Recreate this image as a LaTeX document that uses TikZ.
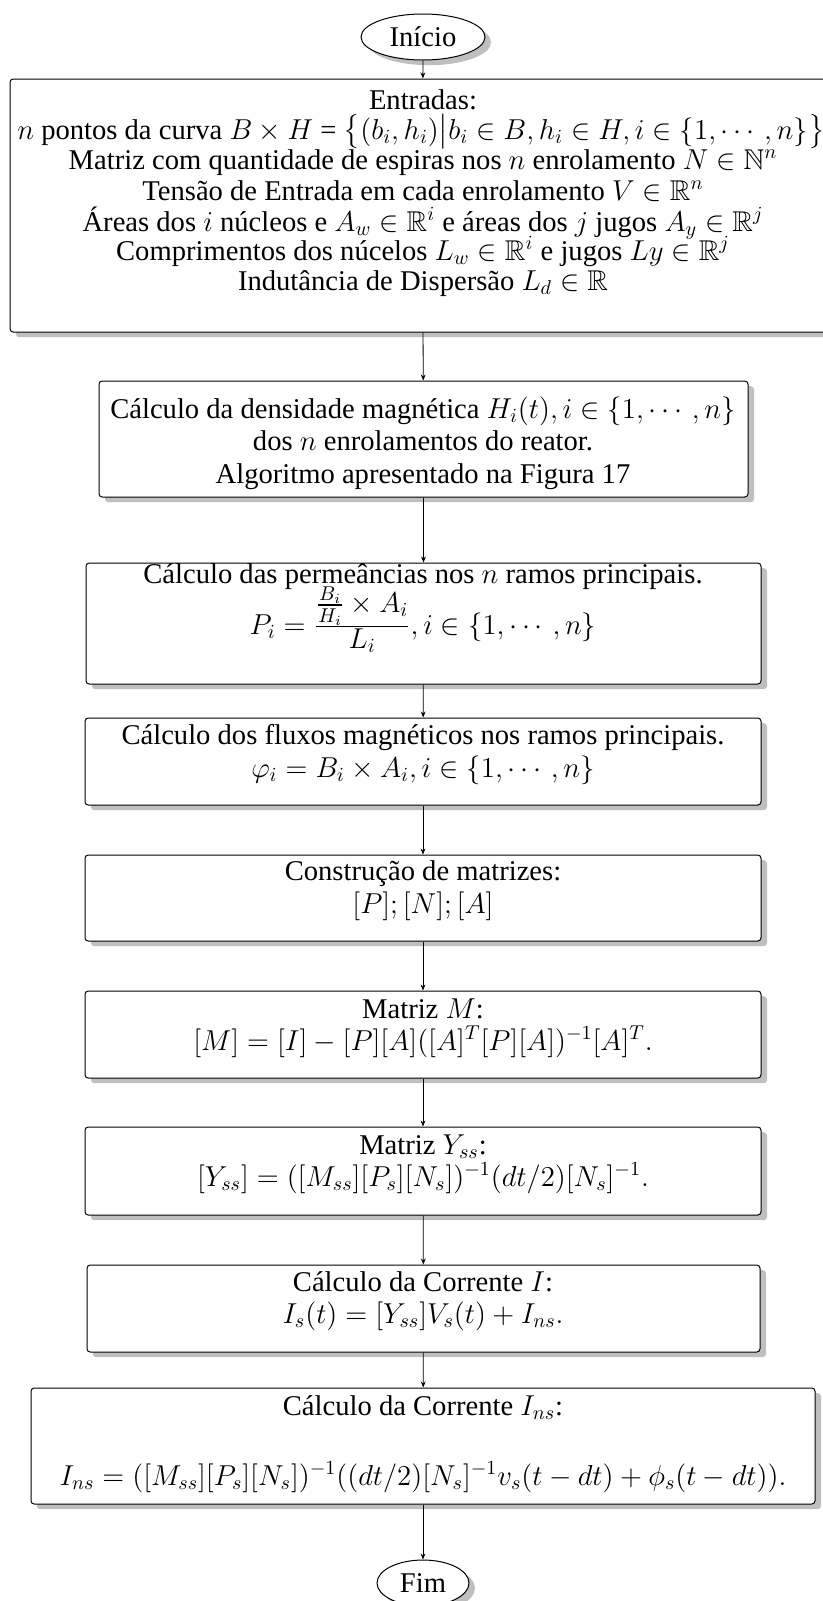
\documentclass[tikz,border=0pt]{standalone}
\usepackage{amsmath,amssymb}
\usepackage{fontspec}
\setmainfont{Liberation Serif}
\usetikzlibrary{shadows,arrows.meta,shapes.geometric}
\begin{document}
\begin{tikzpicture}[x=0.5pt,y=-0.5pt,
  boxstyle/.style={draw=black, line width=0.5pt, rounded corners=1.6pt, fill=white, inner sep=0pt,
    drop shadow={shadow xshift=3pt, shadow yshift=-2.6pt, fill=black!25, opacity=1}},
  termstyle/.style={ellipse, draw=black, line width=0.5pt, fill=white, inner sep=0pt,
    minimum height=23pt, font=\fontsize{14.3}{16}\selectfont,
    drop shadow={shadow xshift=3pt, shadow yshift=-2.6pt, fill=black!25, opacity=1}},
  linestyle/.style={inner sep=0pt, anchor=center, text height=0.7em, text depth=0.2em,
    font=\fontsize{14.3}{16}\selectfont},
  arr/.style={line width=0.4pt, -{Stealth[length=3pt,width=2.4pt]}}]
\useasboundingbox (0,0) rectangle (823,1601);
\clip (0,0) rectangle (823,1601);

% terminals
\node[termstyle, minimum width=62pt] (ini) at (423,37) {Início};
\node[termstyle, minimum width=46pt] (fim) at (423,1583) {Fim};

% boxes
\node[boxstyle, minimum width=412.5pt, minimum height=126.5pt] (b1) at (422.5,205.5) {};
\node[boxstyle, minimum width=324.5pt, minimum height=58pt] (b2) at (423.5,439) {};
\node[boxstyle, minimum width=337.5pt, minimum height=60.5pt] (b3) at (423.5,623.5) {};
\node[boxstyle, minimum width=338pt, minimum height=43.5pt] (b4) at (423,761.5) {};
\node[boxstyle, minimum width=338pt, minimum height=43pt] (b5) at (423,898) {};
\node[boxstyle, minimum width=338pt, minimum height=43.5pt] (b6) at (423,1034.5) {};
\node[boxstyle, minimum width=338pt, minimum height=44pt] (b7) at (423,1171) {};
\node[boxstyle, minimum width=336.5pt, minimum height=43.5pt] (b8) at (423.5,1308.5) {};
\node[boxstyle, minimum width=392pt, minimum height=58pt] (b9) at (423,1446) {};

% texts box 1
\node[linestyle] (t1a) at (423,104) {Entradas:};
\node[linestyle] (t1b) at (421,134) {$n$ pontos da curva $B\times H$ = $\big\{(b_i,h_i)\big|b_i\in B,h_i\in H,i\in\{1,\cdots,n\}\big\}$};
\node[linestyle] (t1c) at (423,164) {Matriz com quantidade de espiras nos $n$ enrolamento $N\in\mathbb{N}^n$};
\node[linestyle] (t1d) at (423,195) {Tensão de Entrada em cada enrolamento $V\in\mathbb{R}^n$};
\node[linestyle] (t1e) at (423,226) {Áreas dos $i$ núcleos e $A_w\in\mathbb{R}^i$ e áreas dos $j$ jugos $A_y\in\mathbb{R}^j$};
\node[linestyle] (t1f) at (423,255) {Comprimentos dos núcelos $L_w\in\mathbb{R}^i$ e jugos $Ly\in\mathbb{R}^j$};
\node[linestyle] (t1g) at (423,285) {Indutância de Dispersão $L_d\in\mathbb{R}$};
% box 2
\node[linestyle] (t2a) at (423,413) {Cálculo da densidade magnética $H_i(t),i\in\{1,\cdots,n\}$};
\node[linestyle] (t2b) at (423,445) {dos $n$ enrolamentos do reator.};
\node[linestyle] (t2c) at (423,478) {Algoritmo apresentado na Figura 17};
% box 3
\node[linestyle] (t3a) at (423,578) {Cálculo das permeâncias nos $n$ ramos principais.};
\node[linestyle] (t3b) at (423,629) {$P_i=\frac{\textstyle\frac{B_i}{H_i}\times A_i}{\textstyle L_i},i\in\{1,\cdots,n\}$};
% box 4
\node[linestyle] (t4a) at (423,739) {Cálculo dos fluxos magnéticos nos ramos principais.};
\node[linestyle] (t4b) at (423,772) {$\varphi_i=B_i\times A_i,i\in\{1,\cdots,n\}$};
% box 5
\node[linestyle] (t5a) at (423,875) {Construção de matrizes:};
\node[linestyle] (t5b) at (423,908) {$[P];[N];[A]$};
% box 6
\node[linestyle] (t6a) at (423,1013) {Matriz $M$:};
\node[linestyle] (t6b) at (423,1045) {$[M]=[I]-[P][A]([A]^T[P][A])^{-1}[A]^T.$};
% box 7
\node[linestyle] (t7a) at (423,1149) {Matriz $Y_{ss}$:};
\node[linestyle] (t7b) at (423,1181) {$[Y_{ss}]=([M_{ss}][P_s][N_s])^{-1}(dt/2)[N_s]^{-1}.$};
% box 8
\node[linestyle] (t8a) at (423,1286) {Cálculo da Corrente $I$:};
\node[linestyle] (t8b) at (423,1318) {$I_s(t)=[Y_{ss}]V_s(t)+I_{ns}.$};
% box 9
\node[linestyle] (t9a) at (423,1410) {Cálculo da Corrente $I_{ns}$:};
\node[linestyle] (t9b) at (423,1480) {$I_{ns}=([M_{ss}][P_s][N_s])^{-1}((dt/2)[N_s]^{-1}v_s(t-dt)+\phi_s(t-dt)).$};

% connectors
\draw[arr] (ini) -- (b1);
\draw[arr] (b1) -- (b2);
\draw[arr] (b2) -- (b3);
\draw[arr] (b3) -- (b4);
\draw[arr] (b4) -- (b5);
\draw[arr] (b5) -- (b6);
\draw[arr] (b6) -- (b7);
\draw[arr] (b7) -- (b8);
\draw[arr] (b8) -- (b9);
\draw[arr] (b9) -- (fim);
\end{tikzpicture}
\end{document}
